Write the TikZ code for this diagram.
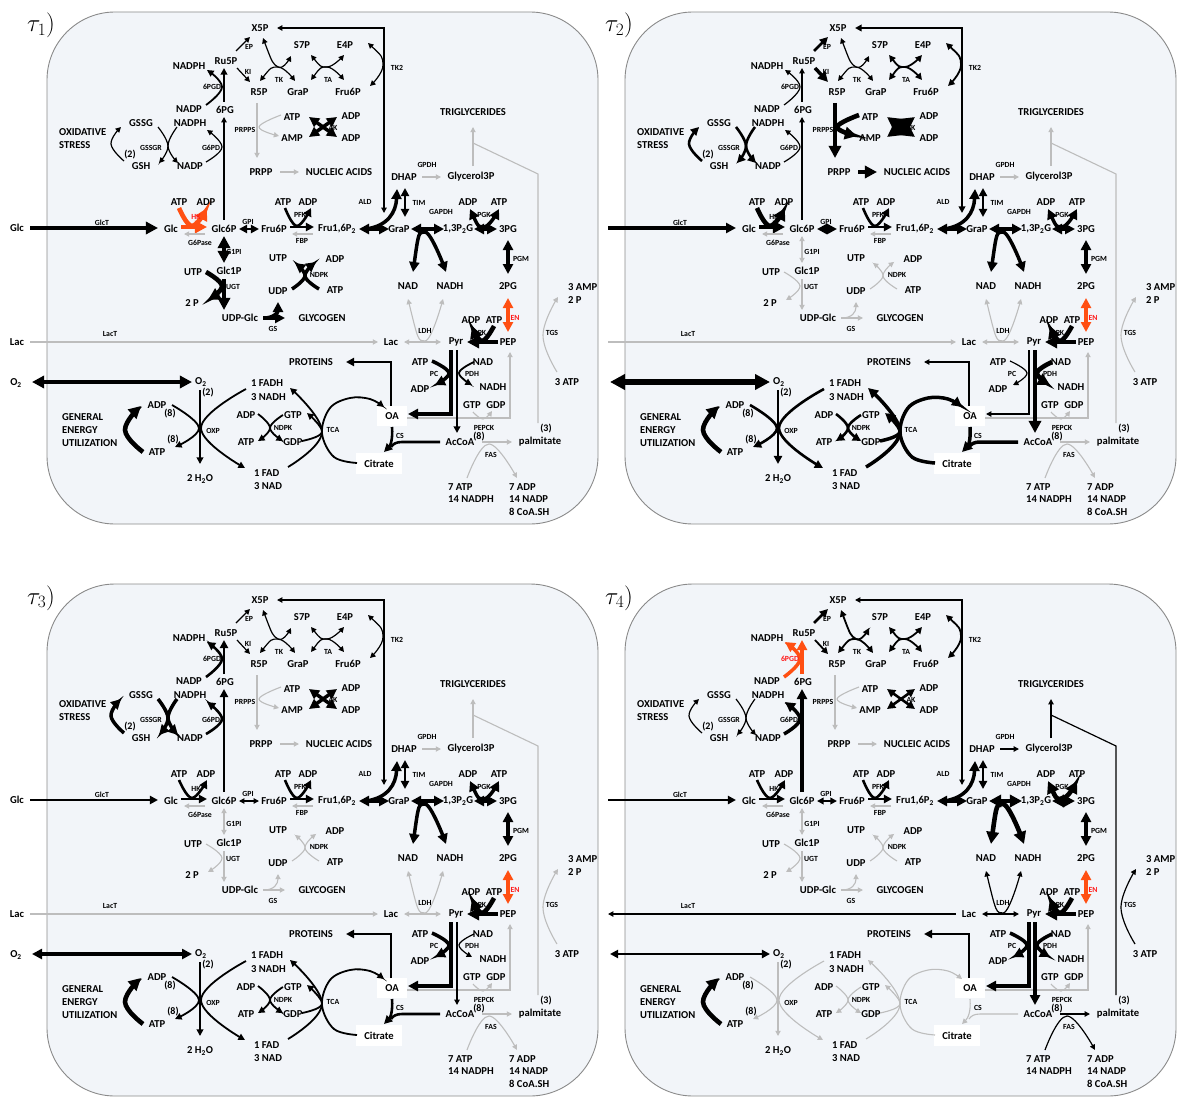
\documentclass[tikz,border=0pt]{standalone}
\usepackage{fontspec}
\setmainfont{Carlito}
\usetikzlibrary{arrows.meta,calc}
\definecolor{gry}{HTML}{BDBDBD}
\definecolor{org}{HTML}{FF4F12}
\definecolor{redl}{HTML}{FF1A1A}
\definecolor{panelbg}{HTML}{F2F5F9}
\definecolor{panelln}{HTML}{8A8A8A}
\tikzset{
 >={Triangle[length=3pt 2,width=3pt 2]},
 Wg/.style={draw=gry,line width=1.1pt},
 W1/.style={draw=black,line width=1.2pt},
 W2/.style={draw=black,line width=1.8pt},
 W3/.style={draw=black,line width=2.6pt},
 W4/.style={draw=black,line width=3.5pt},
 W5/.style={draw=black,line width=4.6pt},
 W6/.style={draw=black,line width=6pt},
 O4/.style={draw=org,line width=3.5pt},
 O5/.style={draw=org,line width=4.6pt},
 lbl/.style={font=\fontsize{10.6}{12}\selectfont\bfseries,inner sep=0pt},
 lblw/.style={lbl,anchor=west},
 sml/.style={font=\fontsize{7.8}{9}\selectfont\bfseries,inner sep=0pt},
 num/.style={font=\fontsize{10}{11}\selectfont\bfseries,inner sep=0pt},
 tau/.style={font=\fontsize{25}{28}\selectfont,inner sep=0pt,anchor=base west},
 % panel 1 defaults
 RX5/.style={W1}, REP/.style={W1}, RKI/.style={W1}, RTK/.style={W1}, RTA/.style={W1},
 RTK2/.style={W1}, R6PGD/.style={W2}, RG6PD/.style={W1}, RGSSGR/.style={W1}, ROX/.style={W1},
 RPRPPS/.style={Wg}, RNA/.style={Wg}, RAK/.style={W4}, RGPDH/.style={Wg}, RTG/.style={Wg},
 RGlcT/.style={W5}, RHK/.style={O5}, RGPI/.style={W3}, RPFK/.style={W3}, RALD/.style={W4},
 RTIM/.style={W3}, RGAPDH/.style={W4}, RPGK/.style={W4}, RPGM/.style={W4}, REN/.style={O4},
 RG1PI/.style={W5}, RUGT/.style={W5}, RGS/.style={W4}, RNDPK/.style={W4}, RLDH/.style={Wg},
 RLacT/.style={Wg,->}, RPK/.style={W5}, RTGS/.style={Wg}, RPR/.style={W3}, RPC/.style={W4},
 RPDH/.style={W2}, RPEPCK/.style={Wg}, RFAS/.style={Wg}, RCS/.style={W3}, RTCA/.style={W2},
 RNDPKt/.style={W2}, ROXP/.style={W2}, RO2/.style={W5}, RGEU/.style={W5},
 LHK/.style={text=redl}, L6PGD/.style={},
}
\newcommand\myarc[4]{\draw[#1] plot[smooth,tension=0.7] coordinates {(#2) (#3) (#4)};}
\newcommand\metabpanel{%
 \filldraw[fill=panelbg,draw=panelln,line width=0.9pt,rounded corners=68pt] (47,12) rectangle (598,524);
 \fill[white] (377,406) rectangle (407,426);
 \fill[white] (356,453) rectangle (402,474);
 % pentose phosphate pathway
 \draw[RX5,<->] (384,213) -- (384,28) -- (277,28);
 \draw[REP,->] (236,51) -- (250,37);
 \draw[RKI,->] (237,68) -- (250,82);
 \myarc{RTK,<->}{263,38}{278,67}{291,56}
 \myarc{RTK,<->}{260,81}{278,67}{295,81}
 \myarc{RTA,<->}{311,55}{327,67}{344,55}
 \myarc{RTA,<->}{311,80}{327,67}{344,80}
 \myarc{RTK2,<->}{368,43}{383,65}{370,86}
 \draw[R6PGD,->] (224,102) -- (224,68);
 \myarc{R6PGD,->}{206,105}{222,87}{207,70}
 \draw[RG6PD,->] (224,220) -- (224,117);
 \myarc{RG6PD,->}{206,162}{222,147}{207,130}
 \myarc{RGSSGR,->}{158,127}{168,146}{159,163}
 \myarc{RGSSGR,->}{177,127}{168,146}{178,163}
 \myarc{ROX,->}{124,161}{111,144}{121,127}
 \draw[RPRPPS,->] (257,103) -- (257,158);
 \myarc{RPRPPS,->}{281,115}{259,127}{279,136}
 \draw[RNA,->] (280,172) -- (299,172);
 \draw[RAK,<->] (309,117) -- (337,137);
 \draw[RAK,<->] (309,137) -- (337,117);
 % glycolysis
 \draw[RGlcT,->] (30,228) -- (158,228);
 \draw[RHK,->] (181,227) -- (207,227);
 \myarc{RHK,->}{179,208}{192,226}{207,208}
 \draw[Wg,->] (205,234) -- (184,234);
 \draw[RGPI,<->] (239,229) -- (259,229);
 \draw[RPFK,->] (290,227) -- (314,227);
 \myarc{RPFK,->}{285,208}{297,226}{311,208}
 \draw[Wg,->] (313,234) -- (292,234);
 \draw[RALD,<->] (359,229) -- (389,229);
 \draw[RALD,->] (366,229) .. controls (388,226) and (396,212) .. (397,189);
 \draw[RTIM,<->] (405,188) -- (405,217);
 \draw[RGPDH,->] (422,177) -- (441,177);
 \draw[RTG,->] (473,166) -- (473,127);
 \draw[RTG] (538,423) -- (538,174) -- (473,143);
 \draw[RGAPDH,<->] (411,229) -- (444,229);
 \myarc{RGAPDH,<->}{413,272}{425,232}{446,272}
 \draw[RPGK,<->] (474,229) -- (497,229);
 \myarc{RPGK,<->}{470,209}{484,227}{499,209}
 \draw[RPGM,<->] (508,240) -- (508,274);
 \draw[REN,<->] (508,298) -- (508,332);
 \draw[RG1PI,<->] (224,236) -- (224,263);
 \draw[RUGT,->] (224,279) -- (224,310);
 \myarc{RUGT,->}{206,272}{222,286}{208,300}
 \draw[RGS,->] (263,318) -- (285,318);
 \draw[RGS,->] (264,318) .. controls (274,318) and (278,312) .. (278,302);
 \myarc{RNDPK,->}{292,289}{305,276}{295,263}
 \myarc{RNDPK,->}{319,289}{305,276}{316,262}
 \draw[RLDH,<->] (404,342) -- (441,342);
 \myarc{RLDH,<->}{408,299}{425,341}{443,299}
 \draw[RLacT] (30,342) -- (378,342);
 \draw[RPK,->] (498,342) -- (467,342);
 \myarc{RPK,->}{494,326}{482,341}{472,326}
 \myarc{RTGS,->}{557,372}{543,335}{558,297}
 % lower part
 \draw[RPR,->] (391,406) -- (391,362) -- (346,362);
 \draw[RPEPCK,->] (407,418) -- (510,418) -- (510,352);
 \myarc{RPEPCK,->}{473,412}{483,419}{492,411}
 \draw[RPC,->] (451,350) -- (451,414) -- (408,414);
 \myarc{RPC,->}{432,361}{449,373}{435,385}
 \draw[RPDH,->] (457,350) -- (457,433);
 \myarc{RPDH,->}{474,362}{459,373}{472,385}
 \draw[RFAS,->] (482,442) -- (512,442);
 \myarc{RFAS,->}{467,478}{489,444}{517,478}
 \draw[RCS,->] (392,427) .. controls (393,440) and (390,446) .. (384,452);
 \draw[RCS] (440,442) -- (402,442) .. controls (396,442) and (393,444) .. (391,447);
 \draw[RTCA,->] plot[smooth,tension=0.6] coordinates {(357,463) (334,457) (322,433) (330,408) (350,398) (370,399) (384,407)};
 \myarc{RTCA,->}{288,467}{322,432}{290,388}
 \myarc{RTCA,->}{302,441}{322,432}{307,413}
 \myarc{RNDPKt,->}{258,414}{270,428}{258,441}
 \myarc{RNDPKt,->}{283,415}{270,428}{283,441}
 \draw[ROXP,->] (200,390) -- (200,464);
 \myarc{ROXP,->}{172,405}{199,428}{175,447}
 \myarc{ROXP,->}{246,389}{201,428}{245,468}
 \draw[RO2,<->] (32,382) -- (192,382);
 \myarc{RGEU,->}{143,452}{125,430}{141,406}
 % labels
 \node[lbl] (X5P) at (260,28) {X5P};
 \node[sml] (lEP) at (249,47) {EP};
 \node[lbl] (Ru5P) at (226,61) {Ru5P};
 \node[lbl] (NADPHa) at (189,66) {NADPH};
 \node[sml] (lKI) at (248,72) {KI};
 \node[lbl] (R5P) at (259,92) {R5P};
 \node[sml] (lTK) at (279,80) {TK};
 \node[lbl] (S7P) at (302,45) {S7P};
 \node[lbl] (E4P) at (345,45) {E4P};
 \node[sml] (lTA) at (328,80) {TA};
 \node[lbl] (GraPt) at (298,92) {GraP};
 \node[lbl] (Fru6Pt) at (348,92) {Fru6P};
 \node[sml] (lTKb) at (397,68) {TK2};
 \node[sml,L6PGD] (lPGD) at (212,87) {6PGD};
 \node[lbl] (NADPa) at (189,109) {NADP};
 \node[lbl] (PGsix) at (225,110) {6PG};
 \node[lbl] (NADPHb) at (190,123) {NADPH};
 \node[lbl] (GSSG) at (141,123) {GSSG};
 \node[lblw] (OXI) at (59,132) {OXIDATIVE};
 \node[lblw] (STR) at (59,145) {STRESS};
 \node[sml] (lGSSGR) at (151,148) {GSSGR};
 \node[num] (ntwoa) at (130,155) {(2)};
 \node[lbl] (GSH) at (141,166) {GSH};
 \node[lbl] (NADPb) at (190,166) {NADP};
 \node[sml] (lGPD) at (211,148) {G6PD};
 \node[sml] (lPRPPS) at (245,130) {PRPPS};
 \node[lbl] (ATPak) at (292,117) {ATP};
 \node[lbl] (AMP) at (292,138) {AMP};
 \node[lbl] (ADPak) at (351,116) {ADP};
 \node[lbl] (ADPakb) at (351,138) {ADP};
 \node[sml] (lAK) at (333,128) {AK};
 \node[lbl] (PRPP) at (261,172) {PRPP};
 \node[lbl] (NUC) at (339,172) {NUCLEIC ACIDS};
 \node[lbl] (TRI) at (473,112) {TRIGLYCERIDES};
 \node[lbl] (DHAP) at (404,177) {DHAP};
 \node[sml] (lGPDH) at (427,165) {GPDH};
 \node[lbl] (GthreeP) at (471,177) {Glycerol3P};
 \node[lbl] (ATPhk) at (179,202) {ATP};
 \node[lbl] (ADPhk) at (206,202) {ADP};
 \node[sml,LHK] (lHK) at (196,217) {HK};
 \node[sml] (lGlcT) at (102,223) {GlcT};
 \node[lbl] (Glc) at (171,229) {Glc};
 \node[sml] (lGPase) at (200,243) {G6Pase};
 \node[lbl] (GlcsixP) at (224,229) {Glc6P};
 \node[sml] (lGPI) at (248,222) {GPI};
 \node[lbl] (FrusixP) at (274,229) {Fru6P};
 \node[lbl] (ATPpfk) at (283,202) {ATP};
 \node[lbl] (ADPpfk) at (308,202) {ADP};
 \node[sml] (lPFK) at (300,215) {PFK};
 \node[sml] (lFBP) at (302,241) {FBP};
 \node[lbl] (Fbis) at (337,229) {Fru1,6P\textsubscript{2}};
 \node[sml] (lALD) at (365,202) {ALD};
 \node[lbl] (GraP) at (399,229) {GraP};
 \node[sml] (lTIM) at (419,203) {TIM};
 \node[sml] (lGAPDH) at (441,212) {GAPDH};
 \node[lbl] (BPG) at (458,229) {1,3P\textsubscript{2}G};
 \node[lbl] (ADPpgk) at (468,202) {ADP};
 \node[lbl] (ATPpgk) at (499,202) {ATP};
 \node[sml] (lPGK) at (484,215) {PGK};
 \node[lbl] (PGthree) at (508,229) {3PG};
 \node[sml] (lPGM) at (521,259) {PGM};
 \node[lbl] (PGtwo) at (508,286) {2PG};
 \node[lbl] (NAD) at (408,286) {NAD};
 \node[lbl] (NADH) at (450,286) {NADH};
 \node[sml] (lGonePI) at (234,252) {G1PI};
 \node[lbl] (UTPl) at (193,272) {UTP};
 \node[lbl] (GlconeP) at (229,271) {Glc1P};
 \node[sml] (lUGT) at (233,287) {UGT};
 \node[lbl] (Ptwo) at (192,303) {2 P};
 \node[lbl] (UDPGlc) at (240,318) {UDP-Glc};
 \node[sml] (lGS) at (273,329) {GS};
 \node[lbl] (UTPr) at (278,258) {UTP};
 \node[lbl] (UDP) at (278,291) {UDP};
 \node[lbl] (ADPnd) at (335,259) {ADP};
 \node[lbl] (ATPnd) at (335,290) {ATP};
 \node[sml] (lNDPK) at (319,275) {NDPK};
 \node[lbl] (GLY) at (322,318) {GLYCOGEN};
 \node[lblw] (AMPthree) at (568,287) {3 AMP};
 \node[lblw] (Ptwob) at (568,300) {2 P};
 \node[sml] (lTGS) at (552,333) {TGS};
 \node[lbl] (ADPpk) at (471,320) {ADP};
 \node[lbl] (ATPpk) at (494,320) {ATP};
 \node[sml] (lPK) at (482,333) {PK};
 \node[sml,text=redl] (lEN) at (515,318) {EN};
 \node[sml] (lLDH) at (425,331) {LDH};
 \node[sml] (lLacT) at (110,334) {LacT};
 \node[lbl] (Lac) at (391,342) {Lac};
 \node[lbl] (Pyr) at (456,342) {Pyr};
 \node[lbl] (PEP) at (508,342) {PEP};
 \node[lbl] (PROT) at (311,362) {PROTEINS};
 \node[lbl] (ATPpc) at (420,362) {ATP};
 \node[lbl] (ADPpc) at (420,389) {ADP};
 \node[sml] (lPC) at (434,374) {PC};
 \node[lbl] (NADpdh) at (483,362) {NAD};
 \node[lbl] (NADHpdh) at (493,387) {NADH};
 \node[sml] (lPDH) at (472,374) {PDH};
 \node[lbl] (ATPthree) at (567,382) {3 ATP};
 \node[lblw] (Otwo) at (195,382) {O\textsubscript{2}};
 \node[num] (ntwob) at (208,393) {(2)};
 \node[lblw] (FADH) at (251,383) {1 FADH};
 \node[lblw] (NADHthree) at (251,397) {3 NADH};
 \node[lblw] (GENa) at (62,417) {GENERAL};
 \node[lblw] (GENb) at (62,430) {ENERGY};
 \node[lblw] (GENc) at (62,443) {UTILIZATION};
 \node[lbl] (ADPg) at (157,405) {ADP};
 \node[num] (neighta) at (170,414) {(8)};
 \node[num] (neightb) at (173,440) {(8)};
 \node[lbl] (ATPg) at (157,452) {ATP};
 \node[sml] (lOXP) at (213,431) {OXP};
 \node[lbl] (ADPt) at (246,415) {ADP};
 \node[lbl] (ATPt) at (246,442) {ATP};
 \node[lbl] (GTPt) at (293,415) {GTP};
 \node[lbl] (GDPt) at (293,442) {GDP};
 \node[sml] (lNDPKt) at (283,428) {NDPK};
 \node[sml] (lTCA) at (333,430) {TCA};
 \node[lbl] (OA) at (392,416) {OA};
 \node[sml] (lCS) at (400,436) {CS};
 \node[lbl] (Cit) at (379,464) {Citrate};
 \node[lbl] (GTPp) at (472,405) {GTP};
 \node[lbl] (GDPp) at (496,405) {GDP};
 \node[sml] (lPEPCK) at (484,428) {PEPCK};
 \node[num] (neightc) at (479,437) {(8)};
 \node[num] (nthree) at (546,429) {(3)};
 \node[lbl] (AcCoA) at (460,442) {AcCoA};
 \node[lbl] (palm) at (540,442) {palmitate};
 \node[sml] (lFAS) at (491,455) {FAS};
 \node[lblw] (FADone) at (254,473) {1 FAD};
 \node[lblw] (NADthree) at (254,486) {3 NAD};
 \node[lbl] (HtwoO) at (200,479) {2 H\textsubscript{2}O};
 \node[lblw] (ATPseven) at (448,487) {7 ATP};
 \node[lblw] (NADPHft) at (448,499) {14 NADPH};
 \node[lblw] (ADPseven) at (509,487) {7 ADP};
 \node[lblw] (NADPft) at (509,499) {14 NADP};
 \node[lblw] (CoA) at (509,512) {8 CoA.SH};
}
\newcommand\leftlabels{%
 \node[lbl] (GlcE) at (17,228) {Glc};
 \node[lbl] (LacE) at (17,342) {Lac};
 \node[lbl] (OtwoE) at (16,383) {O\textsubscript{2}};
}
\begin{document}
\begin{tikzpicture}[x=1pt,y=-1pt]
\useasboundingbox (0,0) rectangle (1180,1097);
\begin{scope}[name prefix=A-]
 \metabpanel
 \leftlabels
 \node[tau] (tauA) at (27,32) {$\tau_1)$};
\end{scope}
\begin{scope}[shift={(578,0)},name prefix=B-]
 \tikzset{RX5/.style={W2},REP/.style={W3},RKI/.style={W4},RTA/.style={W2},RTK2/.style={W2},
  R6PGD/.style={W1},RGSSGR/.style={W3},ROX/.style={W3},RPRPPS/.style={W5},RNA/.style={W5},
  RAK/.style={W6},RGlcT/.style={W4},RHK/.style={W5},RGPI/.style={W4},RG1PI/.style={Wg},
  RUGT/.style={Wg},RGS/.style={Wg},RNDPK/.style={Wg},RPR/.style={W1},RPC/.style={W1},
  RPDH/.style={W5},RCS/.style={W4},RTCA/.style={W4},RNDPKt/.style={W3},ROXP/.style={W3},
  RO2/.style={W6},LHK/.style={}}
 \metabpanel
 \node[tau] (tauB) at (27,32) {$\tau_2)$};
\end{scope}
\begin{scope}[shift={(0,572)},name prefix=C-]
 \tikzset{R6PGD/.style={W3},RG6PD/.style={W3},RGSSGR/.style={W4},ROX/.style={W4},
  RGlcT/.style={W3},RHK/.style={W3},RGPI/.style={W1},RG1PI/.style={Wg},RUGT/.style={Wg},
  RGS/.style={Wg},RNDPK/.style={Wg},RPDH/.style={W1},RO2/.style={W4},LHK/.style={}}
 \metabpanel
 \leftlabels
 \node[tau] (tauC) at (27,32) {$\tau_3)$};
\end{scope}
\begin{scope}[shift={(578,572)},name prefix=D-]
 \tikzset{REP/.style={W3},RKI/.style={W2},RTK/.style={W2},RTA/.style={W2},RTK2/.style={W2},
  R6PGD/.style={O4},L6PGD/.style={text=redl},RG6PD/.style={W4},RAK/.style={W3},
  RGPDH/.style={W1},RTG/.style={W1},RGlcT/.style={W3},RHK/.style={W3},RGPI/.style={W2},
  RGAPDH/.style={W5},RPGK/.style={W5},RG1PI/.style={Wg},RUGT/.style={Wg},RGS/.style={Wg},
  RNDPK/.style={Wg},RLDH/.style={W1},RLacT/.style={W1,<-},RTGS/.style={W1},RPDH/.style={W4},
  RFAS/.style={W1},RCS/.style={Wg},RTCA/.style={Wg},RNDPKt/.style={Wg},ROXP/.style={Wg},
  RO2/.style={W3},LHK/.style={}}
 \metabpanel
 \node[tau] (tauD) at (27,32) {$\tau_4)$};
\end{scope}
\end{tikzpicture}
\end{document}
